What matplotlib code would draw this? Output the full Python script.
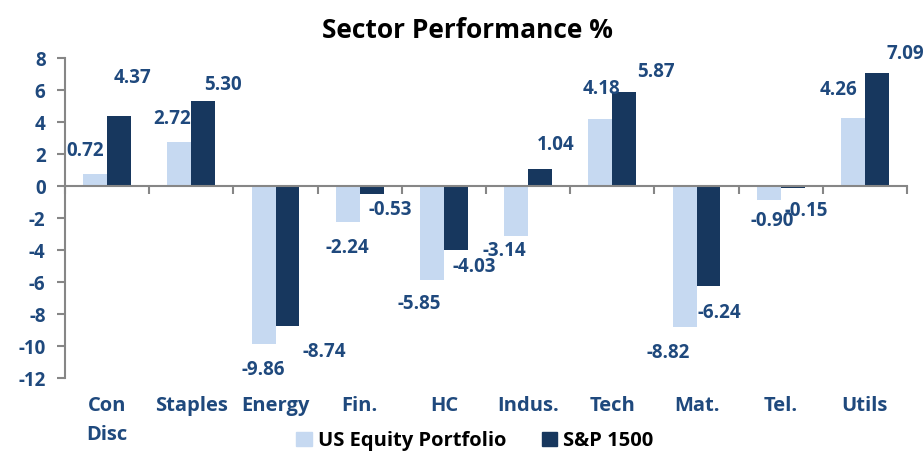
import numpy as np
import matplotlib
matplotlib.use('Agg')
import matplotlib.pyplot as plt
import matplotlib.transforms as mtransforms
from matplotlib.patches import Patch

LIGHT = "#C6D9F1"
DARK = "#17375E"
LABEL = "#1F497D"
AXIS = "#868686"

plt.rcParams.update({
    "font.family": ["Open Sans", "DejaVu Sans"],
    "font.weight": "bold",
})

sectors = ["Con\nDisc", "Staples", "Energy", "Fin.", "HC", "Indus.", "Tech", "Mat.", "Tel.", "Utils"]
portfolio = [0.72, 2.72, -9.86, -2.24, -5.85, -3.14, 4.18, -8.82, -0.90, 4.26]
sp1500 = [4.37, 5.30, -8.74, -0.53, -4.03, 1.04, 5.87, -6.24, -0.15, 7.09]
yticks = list(range(-12, 9, 2))

# label nudges (pixels: right, down) — mimics the hand-placed labels of the original
light_off = [(-10, -23), (-7, -23), (0, 26), (0, 26), (-13, 24), (-12, 15), (1, -30), (-16, 26), (3, 21), (-14, -28)]
dark_off = [(13, -38), (20, -16), (37, 26), (19, 16), (18, 17), (16, -24), (32, -20), (11, 27), (14, 23), (28, -19)]

FS = 13.5

fig = plt.figure(figsize=(9.24, 4.62), dpi=100)
ax = fig.add_axes([65 / 924, 84 / 462, 842 / 924, 320 / 462])

x = np.arange(len(sectors))
w = 0.285
b1 = ax.bar(x - w / 2, portfolio, w, color=LIGHT, label="US Equity Portfolio", zorder=2)
b2 = ax.bar(x + w / 2, sp1500, w, color=DARK, label="S&P 1500", zorder=2)

ax.set_xlim(-0.5, len(sectors) - 0.5)
ax.set_ylim(-12, 8)
ax.set_yticks(yticks)
ax.set_yticklabels([str(t) for t in yticks], fontweight="bold")

for s in ["top", "right"]:
    ax.spines[s].set_visible(False)
ax.spines["bottom"].set_position(("data", 0))
for s in ["left", "bottom"]:
    ax.spines[s].set_color(AXIS)
    ax.spines[s].set_linewidth(1.5)

ax.set_xticks(np.arange(-0.5, len(sectors), 1))
ax.set_xticklabels([])
ax.tick_params(axis="x", length=6, width=1.5, color=AXIS, direction="out")
ax.tick_params(axis="y", length=6, width=1.5, color=AXIS, direction="out",
               labelsize=FS, labelcolor=LABEL, pad=8)

trans = mtransforms.blended_transform_factory(ax.transData, ax.transAxes)
for i, name in enumerate(sectors):
    ax.text(i, -0.055, name, transform=trans, ha="center", va="top",
            fontsize=14.5, fontweight="bold", color=LABEL, linespacing=1.6)

for bars, vals, offs in [(b1, portfolio, light_off), (b2, sp1500, dark_off)]:
    for bar, v, (dx, dy) in zip(bars, vals, offs):
        ax.annotate(f"{v:.2f}", (bar.get_x() + bar.get_width() / 2, v),
                    xytext=(dx, -dy), textcoords="offset pixels",
                    ha="center", va="center", fontsize=FS, fontweight="bold",
                    color=LABEL, zorder=3)

fig.text(467 / 924, 1 - 31 / 462, "Sector Performance %", ha="center", va="center",
         fontsize=19, fontweight="bold", color="black")

handles = [Patch(color=LIGHT, label="US Equity Portfolio"), Patch(color=DARK, label="S&P 1500")]
fig.legend(handles=handles, loc="center", bbox_to_anchor=(475 / 924, 1 - 441 / 462), ncol=2,
           frameon=False, handlelength=0.75, handleheight=0.75,
           handletextpad=0.3, columnspacing=1.8, labelcolor="black",
           prop={"size": 14.5, "weight": "bold"})

plt.savefig("out.png", dpi=100)
